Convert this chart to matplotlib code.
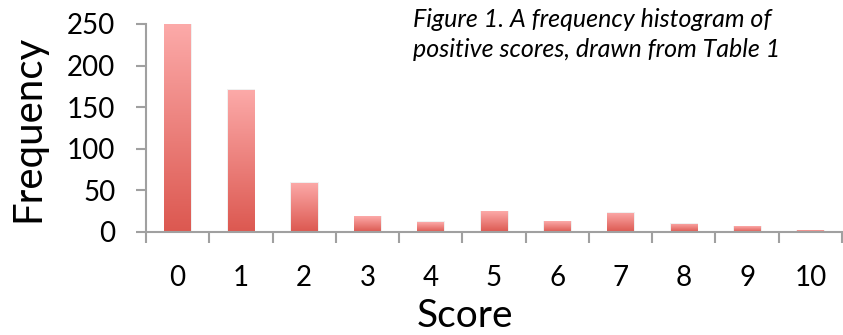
import matplotlib.pyplot as plt
import matplotlib.colors as mcolors
import numpy as np

# Data
scores = ['0', '1', '2', '3', '4', '5', '6', '7', '8', '9', '10']
frequency = [250, 171, 59, 19, 12, 25, 13, 23, 10, 7, 2]

plt.rcParams['font.family'] = ['Lato', 'DejaVu Sans']

fig = plt.figure(figsize=(8.43, 3.35), dpi=100)
ax = fig.add_axes([146 / 843, 103 / 335, (842 - 146) / 843, 208 / 335])

x = np.arange(len(scores))
bars = ax.bar(x, frequency, width=0.42, color='none', edgecolor='none', zorder=2)

# vertical gradient inside every bar, light on top, darker at the bottom
cmap = mcolors.LinearSegmentedColormap.from_list('bar', ['#dc5850', '#fcaaa9'])
grad = np.linspace(0, 1, 256).reshape(-1, 1)
for b in bars:
    x0, w, h = b.get_x(), b.get_width(), b.get_height()
    # soft shadow
    ax.add_patch(plt.Rectangle((x0 - 0.01, 0), w + 0.03, h + 0.8, color='#d0d0d0',
                               alpha=0.3, lw=0, zorder=1))
    im = ax.imshow(grad, cmap=cmap, origin='lower', aspect='auto',
                   extent=(x0, x0 + w, 0, h), zorder=2)
    im.set_clip_path(b)

ax.set_xlim(-0.5, len(scores) - 0.5)
ax.set_ylim(0, 250)
ax.set_yticks([0, 50, 100, 150, 200, 250])
ax.set_xticks(x)
ax.set_xticklabels(scores)
ax.set_xticks(np.arange(-0.5, len(scores)), minor=True)

for s in ['top', 'right']:
    ax.spines[s].set_visible(False)
for s in ['left', 'bottom']:
    ax.spines[s].set_color('#a0a0a0')
    ax.spines[s].set_linewidth(1.5)

ax.tick_params(axis='y', length=7, width=1.5, color='#a0a0a0', labelsize=20, pad=15)
ax.tick_params(axis='x', which='major', length=0, labelsize=20, pad=24)
ax.tick_params(axis='x', which='minor', length=8, width=1.5, color='#a0a0a0')

ax.set_ylabel('Frequency', fontsize=29, va='center')
ax.yaxis.set_label_coords(-0.17, 0.5)
ax.set_xlabel('Score', fontsize=28, va='center')
ax.xaxis.set_label_coords(0.458, -0.404)

fig.text(413 / 843, 1 - 8 / 335, 'Figure 1. A frequency histogram of\npositive scores, drawn from Table 1',
         fontsize=18, style='italic', ha='left', va='top', linespacing=1.35)

fig.savefig('out.png', dpi=100)
